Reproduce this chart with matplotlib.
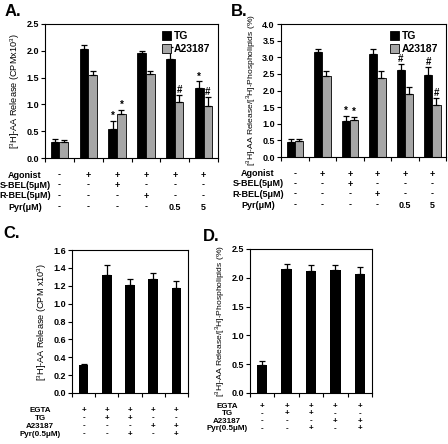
import matplotlib
matplotlib.use("Agg")
import matplotlib.pyplot as plt
import numpy as np

plt.rcParams['font.family'] = ['Liberation Sans', 'DejaVu Sans']
plt.rcParams['mathtext.fontset'] = 'custom'
plt.rcParams['mathtext.rm'] = 'Liberation Sans'
plt.rcParams['mathtext.bf'] = 'Liberation Sans:bold'

W, H = 448, 444

# ---- Panel A data ----
a_tg = [0.30, 2.03, 0.55, 1.96, 1.84, 1.30]
a_tg_err = [0.05, 0.07, 0.14, 0.04, 0.23, 0.13]
a_ca = [0.30, 1.55, 0.82, 1.57, 1.05, 0.97]
a_ca_err = [0.04, 0.07, 0.07, 0.05, 0.13, 0.17]
a_tg_marks = ['', '', '*', '', '', '*']
a_ca_marks = ['', '', '*', '', '#', '#']

# ---- Panel B data ----
b_tg = [0.45, 3.15, 1.08, 3.10, 2.62, 2.48]
b_tg_err = [0.08, 0.10, 0.16, 0.15, 0.18, 0.22]
b_ca = [0.47, 2.43, 1.10, 2.38, 1.88, 1.55]
b_ca_err = [0.08, 0.17, 0.10, 0.20, 0.23, 0.22]
b_tg_marks = ['', '', '*', '', '#', '#']
b_ca_marks = ['', '', '*', '', '', '#']

ab_rows = ['Agonist', 'S-BEL(5\u03bcM)', 'R-BEL(5\u03bcM)', 'Pyr(\u03bcM)']
ab_table = [['-', '+', '+', '+', '+', '+'],
            ['-', '-', '+', '-', '-', '-'],
            ['-', '-', '-', '+', '-', '-'],
            ['-', '-', '-', '-', '0.5', '5']]

# ---- Panel C / D data ----
c_vals = [0.31, 1.32, 1.21, 1.28, 1.18]
c_err = [0.02, 0.11, 0.06, 0.06, 0.07]
d_vals = [0.49, 2.16, 2.11, 2.14, 2.06]
d_err = [0.06, 0.08, 0.12, 0.09, 0.12]

cd_rows = ['EGTA', 'TG', 'A23187', 'Pyr(0.5\u03bcM)']
cd_table = [['+', '+', '+', '+', '+'],
            ['-', '+', '+', '-', '-'],
            ['-', '-', '-', '+', '+'],
            ['-', '-', '+', '-', '+']]

TG_COLOR = 'black'
CA_COLOR = '#a6a6a6'
TICK_FS = 6.5
LAB_FS = 6.6

fig = plt.figure(figsize=(W / 100, H / 100), dpi=100)


def px_axes(left, top, right, bottom):
    return fig.add_axes([left / W, 1 - bottom / H, (right - left) / W, (bottom - top) / H])


def style_axes(ax, n, ymax, step, fmt):
    ax.set_xlim(0, n)
    ax.set_ylim(0, ymax)
    ticks = np.arange(0, ymax + 1e-9, step)
    ax.set_yticks(ticks)
    ax.set_yticklabels([fmt.format(v) for v in ticks], fontsize=TICK_FS, fontweight='bold')
    ax.set_xticks(np.arange(0, n + 1))
    ax.set_xticklabels([])
    ax.tick_params(axis='both', direction='out', length=3, width=0.8, pad=1.5)
    for s in ax.spines.values():
        s.set_linewidth(0.8)


def draw_table(ax, rows, table, centers, ys, label_x, fs):
    # ys and label_x are figure pixels
    for r, (name, y) in enumerate(zip(rows, ys)):
        fig.text(label_x / W, 1 - y / H, name, ha='center', va='center',
                 fontsize=fs, fontweight='bold')
        for c, txt in enumerate(table[r]):
            xd = ax.transData.transform((centers[c], 0))[0]
            fig.text(xd / W, 1 - y / H, txt, ha='center', va='center',
                     fontsize=fs, fontweight='bold')


def paired(ax, tg, tg_err, ca, ca_err, tg_marks, ca_marks):
    n = len(tg)
    x = np.arange(n) + 0.5
    w = 0.3
    ekw = dict(elinewidth=0.9, capthick=0.9)
    ax.bar(x - w / 2, tg, w, color=TG_COLOR, edgecolor='black', linewidth=0.6,
           yerr=[np.zeros(n), tg_err], capsize=2.2, error_kw=ekw, label='TG', zorder=2)
    ax.bar(x + w / 2, ca, w, color=CA_COLOR, edgecolor='black', linewidth=0.6,
           yerr=[np.zeros(n), ca_err], capsize=2.2, error_kw=ekw, label='A23187', zorder=2)
    for i in range(n):
        if tg_marks[i]:
            ax.text(x[i] - w / 2, tg[i] + tg_err[i], tg_marks[i],
                    ha='center', va='bottom', fontsize=7, fontweight='bold')
        if ca_marks[i]:
            ax.text(x[i] + w / 2, ca[i] + ca_err[i], ca_marks[i],
                    ha='center', va='bottom', fontsize=7, fontweight='bold')
    ax.legend(loc='upper right', frameon=False,
              handlelength=0.9, handleheight=0.9, handletextpad=0.3,
              labelspacing=0.3, borderaxespad=0.3,
              prop={'weight': 'bold', 'size': 7.5})
    return x


# ---- Panel A ----
axA = px_axes(45, 24, 218, 158)
style_axes(axA, 6, 2.5, 0.5, '{:.1f}')
xA = paired(axA, a_tg, a_tg_err, a_ca, a_ca_err, a_tg_marks, a_ca_marks)
axA.set_ylabel('[$^3$H]-AA Release (CPMx10$^3$)', fontsize=LAB_FS, labelpad=3)
draw_table(axA, ab_rows, ab_table, xA, [175, 185, 196, 207], 25, 6.5)
fig.text(5 / W, 1 - 12 / H, 'A.', fontsize=12, fontweight='bold', va='center')

# ---- Panel B ----
axB = px_axes(281, 24, 446, 157)
style_axes(axB, 6, 4.0, 0.5, '{:.1f}')
xB = paired(axB, b_tg, b_tg_err, b_ca, b_ca_err, b_tg_marks, b_ca_marks)
axB.set_ylabel('[$^3$H]-AA Release/[$^3$H]-Phospholipids (%)', fontsize=6.1, labelpad=3)
draw_table(axB, ab_rows, ab_table, xB, [174, 184, 194, 205], 258, 6.5)
fig.text(231 / W, 1 - 12 / H, 'B.', fontsize=12, fontweight='bold', va='center')

# ---- Panel C ----
axC = px_axes(72, 250, 188, 393)
style_axes(axC, 5, 1.6, 0.2, '{:.1f}')
xC = np.arange(5) + 0.5
axC.bar(xC, c_vals, 0.42, color='black', yerr=[np.zeros(5), c_err], capsize=2.5,
        error_kw=dict(elinewidth=0.9, capthick=0.9))
axC.set_ylabel('[$^3$H]-AA Release (CPM x10$^3$)', fontsize=LAB_FS, labelpad=3)
draw_table(axC, cd_rows, cd_table, xC, [410, 418, 426, 434], 40, 5.8)
fig.text(3 / W, 1 - 234 / H, 'C.', fontsize=12, fontweight='bold', va='center')

# ---- Panel D ----
axD = px_axes(250, 249, 372, 393)
style_axes(axD, 5, 2.5, 0.5, '{:.1f}')
xD = np.arange(5) + 0.5
axD.bar(xD, d_vals, 0.42, color='black', yerr=[np.zeros(5), d_err], capsize=2.5,
        error_kw=dict(elinewidth=0.9, capthick=0.9))
axD.set_ylabel('[$^3$H]-AA Release/[$^3$H]-Phospholipids (%)', fontsize=6.1, labelpad=3)
draw_table(axD, cd_rows, cd_table, xD, [406, 413.5, 421, 428.5], 227, 5.8)
fig.text(203 / W, 1 - 236 / H, 'D.', fontsize=12, fontweight='bold', va='center')

fig.savefig('out.png', dpi=100)
